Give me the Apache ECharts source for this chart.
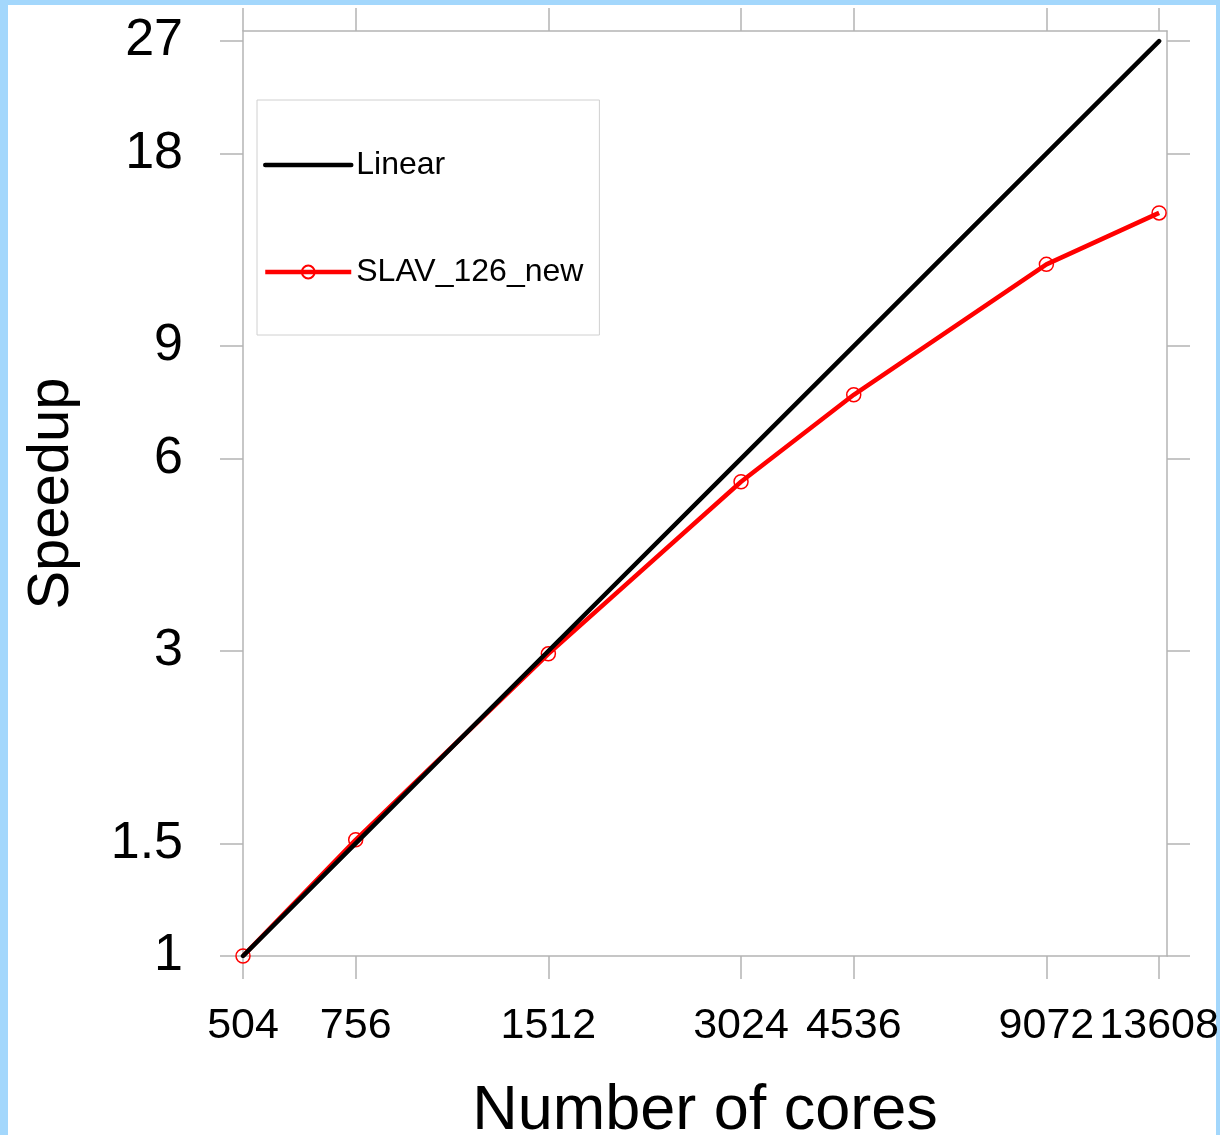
<!DOCTYPE html>
<html>
<head>
<meta charset="utf-8">
<script src="https://cdn.jsdelivr.net/npm/echarts@6/dist/echarts.min.js"></script>
<style>
  html, body { margin: 0; padding: 0; }
  body { background: #a3d7fc; }
  .wrap { position: relative; width: 1220px; height: 1135px; }
  .paper { position: absolute; left: 8px; top: 5px; right: 4px; bottom: 0; background: #fff; }
  #chart { position: absolute; left: 0; top: 0; width: 1220px; height: 1135px; }
</style>
</head>
<body>
<div class="wrap">
  <div class="paper"></div>
  <div id="chart"></div>
</div>
<script>
// cores used in each run
const cores = [504, 756, 1512, 3024, 4536, 9072, 13608]
// ideal speedup (cores / 504)
const linear = [1, 1.5, 3, 6, 9, 18, 27]
// measured speedup
const slav = [1, 1.52, 2.97, 5.52, 7.55, 12.08, 14.54]
// tick labels
const xTicks = [504, 756, 1512, 3024, 4536, 9072, 13608]
const yTicks = [1, 1.5, 3, 6, 9, 18, 27]

const font = '"Liberation Sans", Arial, Helvetica, sans-serif'
const axisGrey = '#b4b4b4'

const chart = echarts.init(document.getElementById('chart'))

const xBase = {
  type: 'log',
  logBase: 10,
  min: 504,
  max: 14000,
  splitLine: { show: false },
  axisLine: { lineStyle: { color: axisGrey, width: 1.5 } },
  axisTick: {
    inside: false,
    length: 23,
    customValues: xTicks,
    lineStyle: { color: axisGrey, width: 1.5 }
  }
}

const yBase = {
  type: 'log',
  logBase: 10,
  min: 1,
  max: 28,
  splitLine: { show: false },
  axisLine: { lineStyle: { color: axisGrey, width: 1.5 } },
  axisTick: {
    inside: false,
    length: 23,
    customValues: yTicks,
    lineStyle: { color: axisGrey, width: 1.5 }
  }
}

const option = {
  animation: false,
  grid: { left: 243, right: 53, top: 31, bottom: 179, outerBoundsMode: 'none' },
  legend: {
    orient: 'vertical',
    left: 257,
    top: 100,
    padding: [49, 16, 47, 6],
    itemGap: 75,
    itemWidth: 86,
    itemHeight: 16,
    borderColor: '#d0d0d0',
    borderWidth: 1,
    lineStyle: { width: 4.5 },
    textStyle: { fontFamily: font, fontSize: 32, color: '#000' },
    data: [
      { name: 'Linear', itemStyle: { opacity: 0 } },
      'SLAV_126_new'
    ]
  },
  xAxis: [
    {
      ...xBase,
      position: 'bottom',
      name: 'Number of cores',
      nameLocation: 'middle',
      nameGap: 124,
      nameTextStyle: { fontFamily: font, fontSize: 63, color: '#000' },
      axisLabel: {
        customValues: xTicks,
        margin: 49,
        fontFamily: font,
        fontSize: 43,
        color: '#000',
        formatter: v => String(v)
      }
    },
    {
      ...xBase,
      position: 'top',
      axisLabel: { show: false }
    }
  ],
  yAxis: [
    {
      ...yBase,
      position: 'left',
      name: 'Speedup',
      nameLocation: 'middle',
      nameGap: 162,
      nameTextStyle: { fontFamily: font, fontSize: 58, color: '#000' },
      axisLabel: {
        customValues: yTicks,
        margin: 60,
        fontFamily: font,
        fontSize: 52,
        color: '#000',
        formatter: v => String(v)
      }
    },
    {
      ...yBase,
      position: 'right',
      axisLabel: { show: false }
    }
  ],
  series: [
    {
      name: 'SLAV_126_new',
      type: 'line',
      z: 2,
      data: cores.map((c, i) => [c, slav[i]]),
      symbol: 'circle',
      symbolSize: 14,
      itemStyle: { color: 'transparent', borderColor: '#ff0000', borderWidth: 1.5 },
      lineStyle: { color: '#ff0000', width: 4.5 }
    },
    {
      name: 'Linear',
      type: 'line',
      z: 3,
      data: cores.map((c, i) => [c, linear[i]]),
      symbol: 'none',
      itemStyle: { color: '#000' },
      lineStyle: { color: '#000', width: 4.5, cap: 'round' }
    }
  ]
}

chart.setOption(option)
</script>
</body>
</html>
